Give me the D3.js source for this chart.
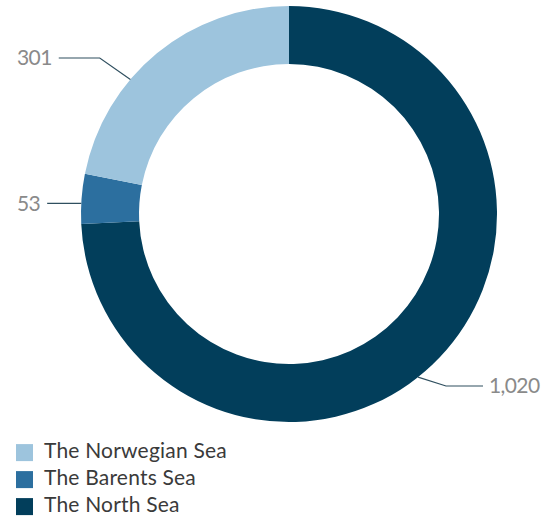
<!DOCTYPE html>
<html>
<head>
<meta charset="utf-8">
<script src="https://cdn.jsdelivr.net/npm/d3@7/dist/d3.min.js"></script>
<style>
  html, body { margin: 0; padding: 0; background: #fff; }
  svg { display: block; font-family: Lato, "Open Sans", sans-serif; }
</style>
</head>
<body>
<svg id="chart" width="543" height="518"></svg>
<script>
// Production by sea area (drawn clockwise from 12 o'clock)
const seas = ["The North Sea", "The Barents Sea", "The Norwegian Sea"];
const values = [1020, 53, 301];
const valueLabels = ["1,020", "53", "301"];
const colors = ["#023e5b", "#2c6f9f", "#9dc4dd"];

// Legend is listed in reverse draw order
const legendOrder = ["The Norwegian Sea", "The Barents Sea", "The North Sea"];

const svg = d3.select("#chart");
const cx = 289, cy = 214, outerR = 208, innerR = 150;

const data = seas.map((s, i) => ({ sea: s, value: values[i], label: valueLabels[i], color: colors[i] }));

const pie = d3.pie().sort(null).value(d => d.value);
const arcs = pie(data);
const arc = d3.arc().innerRadius(innerR).outerRadius(outerR);

const g = svg.append("g").attr("transform", `translate(${cx},${cy})`);
g.selectAll("path.slice")
  .data(arcs)
  .join("path")
  .attr("class", "slice")
  .attr("d", arc)
  .attr("fill", d => d.data.color);

// Data-label connectors: anchor at a fraction along each slice, label row, side
const labelLayout = {
  "The North Sea":     { frac: 0.53, side: "right", rowY: 386, run: 37 },
  "The Barents Sea":   { frac: 0.41, side: "left",  rowY: null, run: 60 },
  "The Norwegian Sea": { frac: 0.37, side: "left",  rowY: 58,  run: 41 }
};

const labelG = svg.append("g");
arcs.forEach(a => {
  const lay = labelLayout[a.data.sea];
  const ang = a.startAngle + (a.endAngle - a.startAngle) * lay.frac;
  const ax = cx + outerR * Math.sin(ang);
  const ay = cy - outerR * Math.cos(ang);
  const ly = lay.rowY == null ? ay : lay.rowY;

  const t = labelG.append("text")
    .attr("y", ly)
    .attr("dy", "0.35em")
    .attr("font-size", 21)
    .attr("letter-spacing", -0.6)
    .attr("fill", "#8a8a8a")
    .text(a.data.label);

  let pts;
  if (lay.side === "left") {
    t.attr("x", 17).attr("text-anchor", "start");
    const end = 17 + t.node().getBBox().width + 7;
    const elbow = Math.min(end + lay.run, ax);
    pts = [[end, ly], [elbow, ly], [ax, ay]];
  } else {
    t.attr("x", 489).attr("text-anchor", "start");
    const start = 489 - 6;
    const elbow = Math.max(start - lay.run, ax);
    pts = [[start, ly], [elbow, ly], [ax, ay]];
  }
  labelG.append("path")
    .attr("d", d3.line()(pts))
    .attr("fill", "none")
    .attr("stroke", "#2f4f5f")
    .attr("stroke-width", 1.2);
});

// Legend
const legend = svg.append("g");
const rowY = d3.scalePoint().domain(legendOrder).range([450.6, 504.6]);
legendOrder.forEach(name => {
  const d = data.find(x => x.sea === name);
  const y = rowY(name);
  legend.append("rect")
    .attr("x", 16).attr("y", y - 6.5)
    .attr("width", 17).attr("height", 17)
    .attr("fill", d.color);
  legend.append("text")
    .attr("x", 44).attr("y", y)
    .attr("dy", "0.35em")
    .attr("font-size", 21)
    .attr("letter-spacing", 0.2)
    .attr("fill", "#3a3a3a")
    .text(name);
});
</script>
</body>
</html>
